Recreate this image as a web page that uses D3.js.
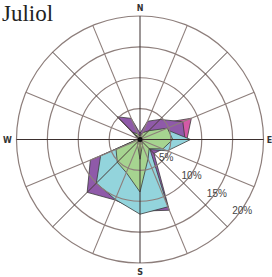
<!DOCTYPE html>
<html>
<head>
<meta charset="utf-8">
<script src="https://cdn.jsdelivr.net/npm/d3@7"></script>
<style>
  body { margin: 0; background: #fff; }
  svg { display: block; }
  .dirLabel { font-family: "DejaVu Sans", sans-serif; font-size: 8px; font-weight: bold; fill: #333; }
  .pctLabel { font-family: "Liberation Sans", sans-serif; font-size: 10px; fill: #444; }
  .title { font-family: "Liberation Serif", serif; font-size: 23px; fill: #222; }
</style>
</head>
<body>
<div id="chart"></div>
<script>
/**
 * wind rose for July, 16 directions, values in %
 */

const WIDTH = 272;
const HEIGHT = 277;
const CX = 140;
const CY = 139.5;
const R = 123.5;

const directions = ["N", "NNE", "NE", "ENE", "E", "ESE", "SE", "SSE",
                    "S", "SSW", "SW", "WSW", "W", "WNW", "NW", "NNW"];
const ringTicks = [5, 10, 15, 20];
const cardinalLabels = ["N", "E", "S", "W"];

// series, drawn back to front
const pinkValues   = [0.5, 1.5, 3.5, 9.0, 7.6, 2.0, 0.5, 0.5, 0.5, 0.5, 0.5, 0.5, 0.2, 0.2, 0.5, 0.5];
const purpleValues = [1.0, 3.2, 4.6, 7.5, 7.3, 4.0, 3.2, 12.4, 11.6, 10.6, 12.1, 8.7, 0.4, 0.3, 5.2, 3.7];
const cyanValues   = [0.5, 1.2, 1.6, 4.4, 8.2, 4.8, 2.3, 11.8, 12.1, 10.5, 10.0, 6.9, 0.5, 0.3, 1.3, 0.8];
const greenValues  = [0.6, 1.2, 2.0, 4.8, 5.3, 4.0, 2.1, 3.4, 8.5, 5.8, 5.2, 4.2, 0.5, 0.3, 1.6, 1.0];
const lightValues  = [0.4, 0.4, 0.4, 0.4, 0.4, 0.4, 0.4, 1.0, 3.2, 1.0, 0.4, 0.4, 0.3, 0.3, 1.0, 0.4];

const series = [
    { name: "pink",   values: pinkValues,   color: "#d35aa6" },
    { name: "purple", values: purpleValues, color: "#8f5aa9" },
    { name: "cyan",   values: cyanValues,   color: "#93d4dc" },
    { name: "green",  values: greenValues,  color: "#a6d490" },
    { name: "light",  values: lightValues,  color: "#c4e59c" }
];

const svg = d3.select("#chart").append("svg")
              .attr("width", WIDTH)
              .attr("height", HEIGHT);

svg.append("rect")
   .attr("width", WIDTH)
   .attr("height", HEIGHT)
   .attr("fill", "#fff");

const r = d3.scaleLinear().domain([0, 20]).range([0, R]);
const angle = d3.scalePoint().domain(directions).range([0, 2 * Math.PI * 15 / 16]);

const g = svg.append("g").attr("transform", `translate(${CX}, ${CY})`);

// polygons
const line = d3.lineRadial()
               .angle((d, i) => angle(directions[i]))
               .radius(d => r(d))
               .curve(d3.curveLinearClosed);

g.selectAll(".layer")
 .data(series)
 .enter()
 .append("path")
 .attr("class", "layer")
 .attr("d", d => line(d.values))
 .attr("fill", d => d.color)
 .attr("stroke", "#3a3a3a")
 .attr("stroke-width", 0.8)
 .attr("stroke-linejoin", "round");

// rings
g.selectAll(".ring")
 .data(ringTicks)
 .enter()
 .append("circle")
 .attr("class", "ring")
 .attr("r", d => r(d))
 .attr("fill", "none")
 .attr("stroke", "#8d7e7b")
 .attr("stroke-width", 1.2);

// spokes
g.selectAll(".spoke")
 .data(directions)
 .enter()
 .append("line")
 .attr("class", "spoke")
 .attr("x1", 0)
 .attr("y1", 0)
 .attr("x2", d => Math.sin(angle(d)) * R)
 .attr("y2", d => -Math.cos(angle(d)) * R)
 .attr("stroke", (d, i) => i % 4 === 0 ? "#3b2f2e" : (i % 2 === 0 ? "#4a3c3a" : "#8d7e7b"))
 .attr("stroke-width", (d, i) => i % 2 === 0 ? 1 : 1.1);

g.append("circle")
 .attr("r", 2.5)
 .attr("fill", "#111");

// percent labels along the SE side
const labelAngle = 125 * Math.PI / 180;
g.selectAll(".pctLabel")
 .data(ringTicks)
 .enter()
 .append("text")
 .attr("class", "pctLabel")
 .attr("text-anchor", "middle")
 .attr("x", d => Math.sin(labelAngle) * r(d) + 1)
 .attr("y", d => -Math.cos(labelAngle) * r(d) + 4)
 .text(d => d + "%");

// compass letters
const labelPos = {
    N: [0, -R - 5],
    E: [R + 6, 3],
    S: [0, R + 12],
    W: [-R - 9, 3]
};

g.selectAll(".dirLabel")
 .data(cardinalLabels)
 .enter()
 .append("text")
 .attr("class", "dirLabel")
 .attr("text-anchor", "middle")
 .attr("x", d => labelPos[d][0])
 .attr("y", d => labelPos[d][1])
 .text(d => d);

svg.append("text")
   .attr("class", "title")
   .attr("x", 2)
   .attr("y", 21)
   .text("Juliol");
</script>
</body>
</html>
